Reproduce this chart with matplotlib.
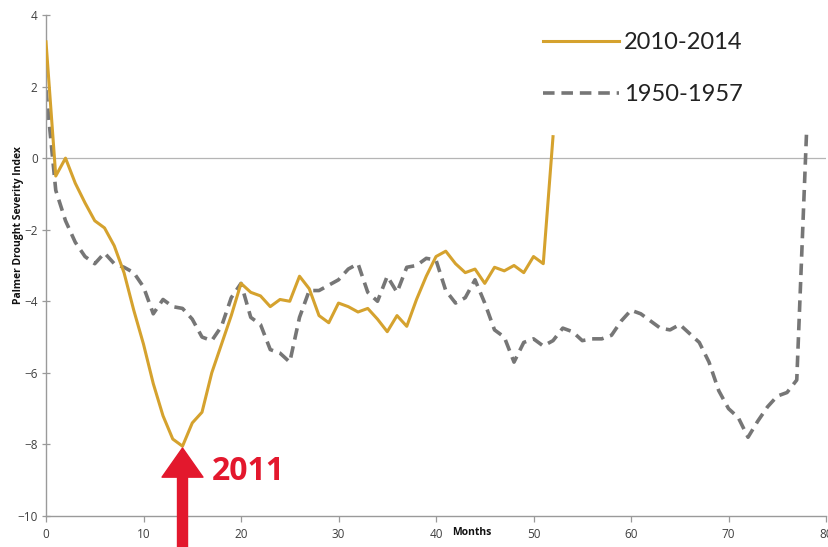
import matplotlib
matplotlib.use('Agg')
import matplotlib.pyplot as plt
from matplotlib.transforms import blended_transform_factory

# Palmer Drought Severity Index by month from start of drought
drought2010 = [3.25, -0.5, 0.0, -0.7, -1.25, -1.75, -1.95, -2.45, -3.2, -4.25,
               -5.2, -6.3, -7.2, -7.85, -8.05, -7.4, -7.1, -6.0, -5.2, -4.4,
               -3.5, -3.75, -3.85, -4.15, -3.95, -4.0, -3.3, -3.65, -4.4, -4.6,
               -4.05, -4.15, -4.3, -4.2, -4.5, -4.85, -4.4, -4.7, -3.95, -3.3,
               -2.75, -2.6, -2.95, -3.2, -3.1, -3.5, -3.05, -3.15, -3.0, -3.2,
               -2.75, -2.95, 0.6]
drought1950 = [1.9, -0.9, -1.75, -2.35, -2.75, -2.95, -2.65, -2.95, -3.05, -3.2,
               -3.6, -4.35, -3.95, -4.15, -4.2, -4.5, -5.0, -5.1, -4.7, -3.9,
               -3.5, -4.45, -4.65, -5.35, -5.45, -5.7, -4.45, -3.7, -3.7, -3.55,
               -3.4, -3.1, -2.95, -3.75, -4.0, -3.3, -3.75, -3.05, -3.0, -2.8,
               -2.85, -3.7, -4.05, -3.9, -3.4, -4.05, -4.8, -5.0, -5.7, -5.15,
               -5.05, -5.25, -5.1, -4.75, -4.85, -5.1, -5.05, -5.05, -4.95, -4.55,
               -4.25, -4.35, -4.55, -4.75, -4.8, -4.65, -4.9, -5.15, -5.7, -6.5,
               -7.0, -7.25, -7.8, -7.35, -6.95, -6.65, -6.55, -6.2, 0.7]
months2010 = list(range(len(drought2010)))
months1950 = list(range(len(drought1950)))
labels = ['2010-2014', '1950-1957']
xticks = list(range(0, 81, 10))
yticks = list(range(-10, 5, 2))

gold = '#D5A22E'
grey = '#767676'
red = '#E3182D'
tickColor = '#3F3F3F'

fig = plt.figure(figsize=(8.29, 5.47), dpi=100)
ax = fig.add_axes([0.0555, 0.0567, 0.9409, 0.9159])

ax.axhline(0, color='#B5B5B5', linewidth=0.9, zorder=1)
ax.plot(months2010, drought2010, color=gold, linewidth=2.2, label=labels[0], zorder=3)
ax.plot(months1950, drought1950, color=grey, linewidth=2.6, dashes=(3.2, 1.9),
        label=labels[1], zorder=2)

ax.set_xlim(0, 80)
ax.set_ylim(-10, 4)
ax.set_xticks(xticks)
ax.set_yticks(yticks)
for side in ['top', 'right']:
    ax.spines[side].set_visible(False)
for side in ['left', 'bottom']:
    ax.spines[side].set_color('#9A9A9A')
    ax.spines[side].set_linewidth(1.0)
ax.tick_params(axis='both', colors='#9A9A9A', labelcolor=tickColor, labelsize=8.5,
               length=4, width=0.9)
ax.tick_params(axis='y', direction='inout', length=6, pad=3)
ax.tick_params(axis='x', direction='out', pad=5)
for lbl in ax.get_xticklabels() + ax.get_yticklabels():
    lbl.set_family('Open Sans')

ax.text(-0.0355, 0.58, 'Palmer Drought Severity Index', transform=ax.transAxes,
        rotation=90, ha='center', va='center', fontsize=7.5, fontweight='bold',
        family='Open Sans', color='#111111')
trans = blended_transform_factory(ax.transData, fig.transFigure)
ax.text(41.7, 0.026, 'Months', transform=trans, ha='left', va='center',
        fontsize=7.5, fontweight='bold', family='Open Sans', color='#111111')

leg = ax.legend(loc='upper right', bbox_to_anchor=(0.92, 1.008), frameon=False,
                handlelength=3.2, handletextpad=0.2, labelspacing=1.3,
                prop={'family': 'Lato', 'size': 17})
for txt in leg.get_texts():
    txt.set_color('#222222')

# red arrow pointing at the 2011 low
low = min(drought2010)
lowMonth = months2010[drought2010.index(low)]
ax.annotate('', xy=(lowMonth, low - 0.05), xytext=(lowMonth, -11.6),
            arrowprops=dict(arrowstyle='simple,head_length=2.1,head_width=2.95,tail_width=0.72',
                            color=red, mutation_scale=10, shrinkA=0, shrinkB=0),
            annotation_clip=False, zorder=5)
ax.text(lowMonth + 3.0, low - 0.72, '2011', ha='left', va='center', fontsize=23,
        fontweight='bold', family='Open Sans', color=red)

fig.savefig('out.png', dpi=100)
